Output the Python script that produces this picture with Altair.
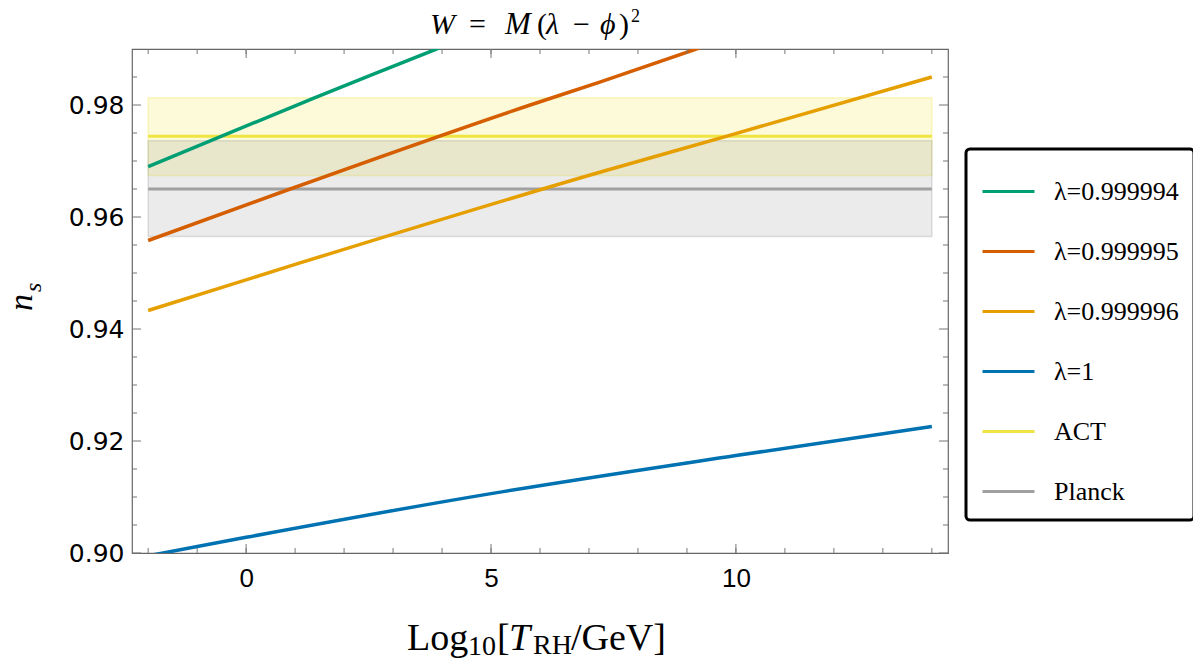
import altair as alt
import pandas as pd

# ---------------- data ----------------
series_names = ["λ=0.999994", "λ=0.999995", "λ=0.999996", "λ=1", "ACT", "Planck"]
series_colors = ["#009E73", "#D55E00", "#E69F00", "#0072B2", "#F0E442", "#A0A0A0"]

# curves n_s vs Log10[T_RH/GeV]
x_l994 = [-2.0, 1.37, 3.86, 4.5]
y_l994 = [0.9690, 0.9812, 0.9899, 0.9922]

x_l995 = [-2.0, 0.9, 5.8, 7.22, 9.16, 10.0]
y_l995 = [0.9558, 0.9650, 0.9800, 0.9841, 0.9899, 0.9925]

x_l996 = [-2.0, 1.1, 7.22, 9.8, 14.0]
y_l996 = [0.9433, 0.9518, 0.9680, 0.9744, 0.9850]

x_l1 = [-2.0, 0.0, 5.0, 10.0, 14.0]
y_l1 = [0.8995, 0.9028, 0.9106, 0.9174, 0.9226]

# observational constraints
obs_names = ["ACT", "Planck"]
obs_center = [0.9744, 0.9650]
obs_lo = [0.9674, 0.9565]
obs_hi = [0.9813, 0.9736]
obs_fill = ["#F0E442", "#999999"]
obs_x = [-2.0, 14.0]

# axis ticks
x_ticks_minor = [-2, -1, 0, 1, 2, 3, 4, 5, 6, 7, 8, 9, 10, 11, 12, 13, 14]
x_ticks_major = [0, 5, 10]
y_ticks_minor = [0.905, 0.91, 0.915, 0.925, 0.93, 0.935, 0.945, 0.95, 0.955,
                 0.965, 0.97, 0.975, 0.985]
y_ticks_major = [0.90, 0.92, 0.94, 0.96, 0.98]

# title pieces: W = M(λ − ϕ)^2
title_parts = ["W", "=", "M", "(", "λ", "−", "ϕ", ")", "2"]

# ---------------- tables ----------------
rows = []
for name, xs, ys in [
    (series_names[0], x_l994, y_l994),
    (series_names[1], x_l995, y_l995),
    (series_names[2], x_l996, y_l996),
    (series_names[3], x_l1, y_l1),
]:
    for xv, yv in zip(xs, ys):
        rows.append({"series": name, "x": xv, "y": yv})
curves = pd.DataFrame(rows)

hrows = []
for name, c in zip(obs_names, obs_center):
    for xv in obs_x:
        hrows.append({"series": name, "x": xv, "y": c})
hlines = pd.DataFrame(hrows)

bands = pd.DataFrame({
    "band": obs_names, "lo": obs_lo, "hi": obs_hi,
    "x0": [obs_x[0]] * 2, "x1": [obs_x[1]] * 2, "fill": obs_fill,
})

W, H = 816, 504
xscale = alt.Scale(domain=[-2.33, 14.33], nice=False, zero=False)
yscale = alt.Scale(domain=[0.90, 0.99], nice=False, zero=False)
cscale = alt.Scale(domain=series_names, range=series_colors)

X = alt.X("x:Q", scale=xscale, title=None,
          axis=alt.Axis(values=x_ticks_major, format="d", labelPadding=12,
                        labelFont="Liberation Sans", labelFontSize=26))
Y = alt.Y("y:Q", scale=yscale, title=None,
          axis=alt.Axis(values=y_ticks_major, format=".2f", labelPadding=8,
                        labelFont="DejaVu Sans", labelFontSize=25))

band_layers = []
for i, name in enumerate(obs_names):
    band_layers.append(
        alt.Chart(bands[bands["band"] == name]).mark_rect(
            color=obs_fill[i], fillOpacity=0.2, stroke=obs_fill[i],
            strokeOpacity=0.3, strokeWidth=1.5
        ).encode(
            x=alt.X("x0:Q", scale=xscale, title=None), x2="x1:Q",
            y=alt.Y("lo:Q", scale=yscale, title=None), y2="hi:Q",
        )
    )

legend = alt.Legend(
    title=None, orient="none", legendX=834, legendY=100,
    symbolType="stroke", symbolSize=2700, symbolStrokeWidth=3,
    labelFont="Liberation Serif", labelFontSize=26, labelColor="black",
    labelOffset=18, padding=15, symbolOffset=0, fillColor="white",
)

hline_layer = alt.Chart(hlines).mark_line(strokeWidth=3).encode(
    x=X, y=Y,
    color=alt.Color("series:N", scale=cscale, legend=legend),
    detail="series:N",
)

curve_layer = alt.Chart(curves).mark_line(
    strokeWidth=3.5, clip=True, interpolate="monotone"
).encode(
    x=X, y=Y,
    color=alt.Color("series:N", scale=cscale, legend=legend),
    detail="series:N",
)

tick_color = "#777777"
xt_minor = pd.DataFrame({"x": x_ticks_minor})
xt_major = pd.DataFrame({"x": x_ticks_major})
yt_minor = pd.DataFrame({"y": y_ticks_minor})
yt_major = pd.DataFrame({"y": y_ticks_major})


def xticks(df, length):
    bot = alt.Chart(df).mark_rule(color=tick_color, strokeWidth=1).encode(
        x=alt.X("x:Q", scale=xscale, title=None), y=alt.value(H), y2=alt.value(H - length))
    top = alt.Chart(df).mark_rule(color=tick_color, strokeWidth=1).encode(
        x=alt.X("x:Q", scale=xscale, title=None), y=alt.value(0), y2=alt.value(length))
    return [bot, top]


def yticks(df, length):
    left = alt.Chart(df).mark_rule(color=tick_color, strokeWidth=1).encode(
        y=alt.Y("y:Q", scale=yscale, title=None), x=alt.value(0), x2=alt.value(length))
    right = alt.Chart(df).mark_rule(color=tick_color, strokeWidth=1).encode(
        y=alt.Y("y:Q", scale=yscale, title=None), x=alt.value(W), x2=alt.value(W - length))
    return [left, right]


tick_layers = xticks(xt_minor, 5) + xticks(xt_major, 9) + yticks(yt_minor, 5) + yticks(yt_major, 9)


def label(text, x, y, size, style="normal", angle=0, font="Liberation Serif"):
    return alt.Chart(pd.DataFrame({"t": [text]})).mark_text(
        font=font, fontSize=size, fontStyle=style, align="left",
        baseline="alphabetic", angle=angle, color="black",
    ).encode(text="t:N", x=alt.value(x), y=alt.value(y))


tb = -15  # title baseline (relative to plot top)
text_layers = [
    # plot title  W = M(λ − ϕ)²
    label(title_parts[0], 298, tb, 30, style="italic"),
    label(title_parts[1], 337, tb, 30),
    label(title_parts[2], 373, tb, 31, style="italic"),
    label(title_parts[3], 405, tb, 30),
    label(title_parts[4], 414, tb, 30, style="italic"),
    label(title_parts[5], 441, tb, 30),
    label(title_parts[6], 468, tb, 30, style="italic"),
    label(title_parts[7], 487, tb, 30),
    label(title_parts[8], 499, tb - 12, 18),
    # x-axis title  Log10[T_RH/GeV]
    label("Log", 275, 601, 38),
    label("10", 336, 606, 28),
    label("[", 365, 601, 38),
    label("T", 377, 601, 38, style="italic"),
    label("RH", 401, 605, 28),
    label("/GeV]", 439, 601, 38),
    # y-axis title n_s
    label("n", -100, 262, 34, style="italic", angle=270),
    label("s", -91, 243, 24, style="italic", angle=270),
]

chart = alt.layer(
    *band_layers, hline_layer, curve_layer, *tick_layers, *text_layers
).properties(
    width=W, height=H,
    padding={"left": 124, "top": 41, "right": 245, "bottom": 109},
    autosize=alt.AutoSizeParams(type="none"),
).configure_view(
    stroke="#666666", strokeWidth=1.2
).configure_axis(
    grid=False, domain=False, ticks=False, labelColor="black",
).configure_legend(
    strokeColor="black", strokeWidth=3, cornerRadius=4, rowPadding=19,
)

chart.save("out.html", embed_options={"renderer": "svg", "actions": False})
